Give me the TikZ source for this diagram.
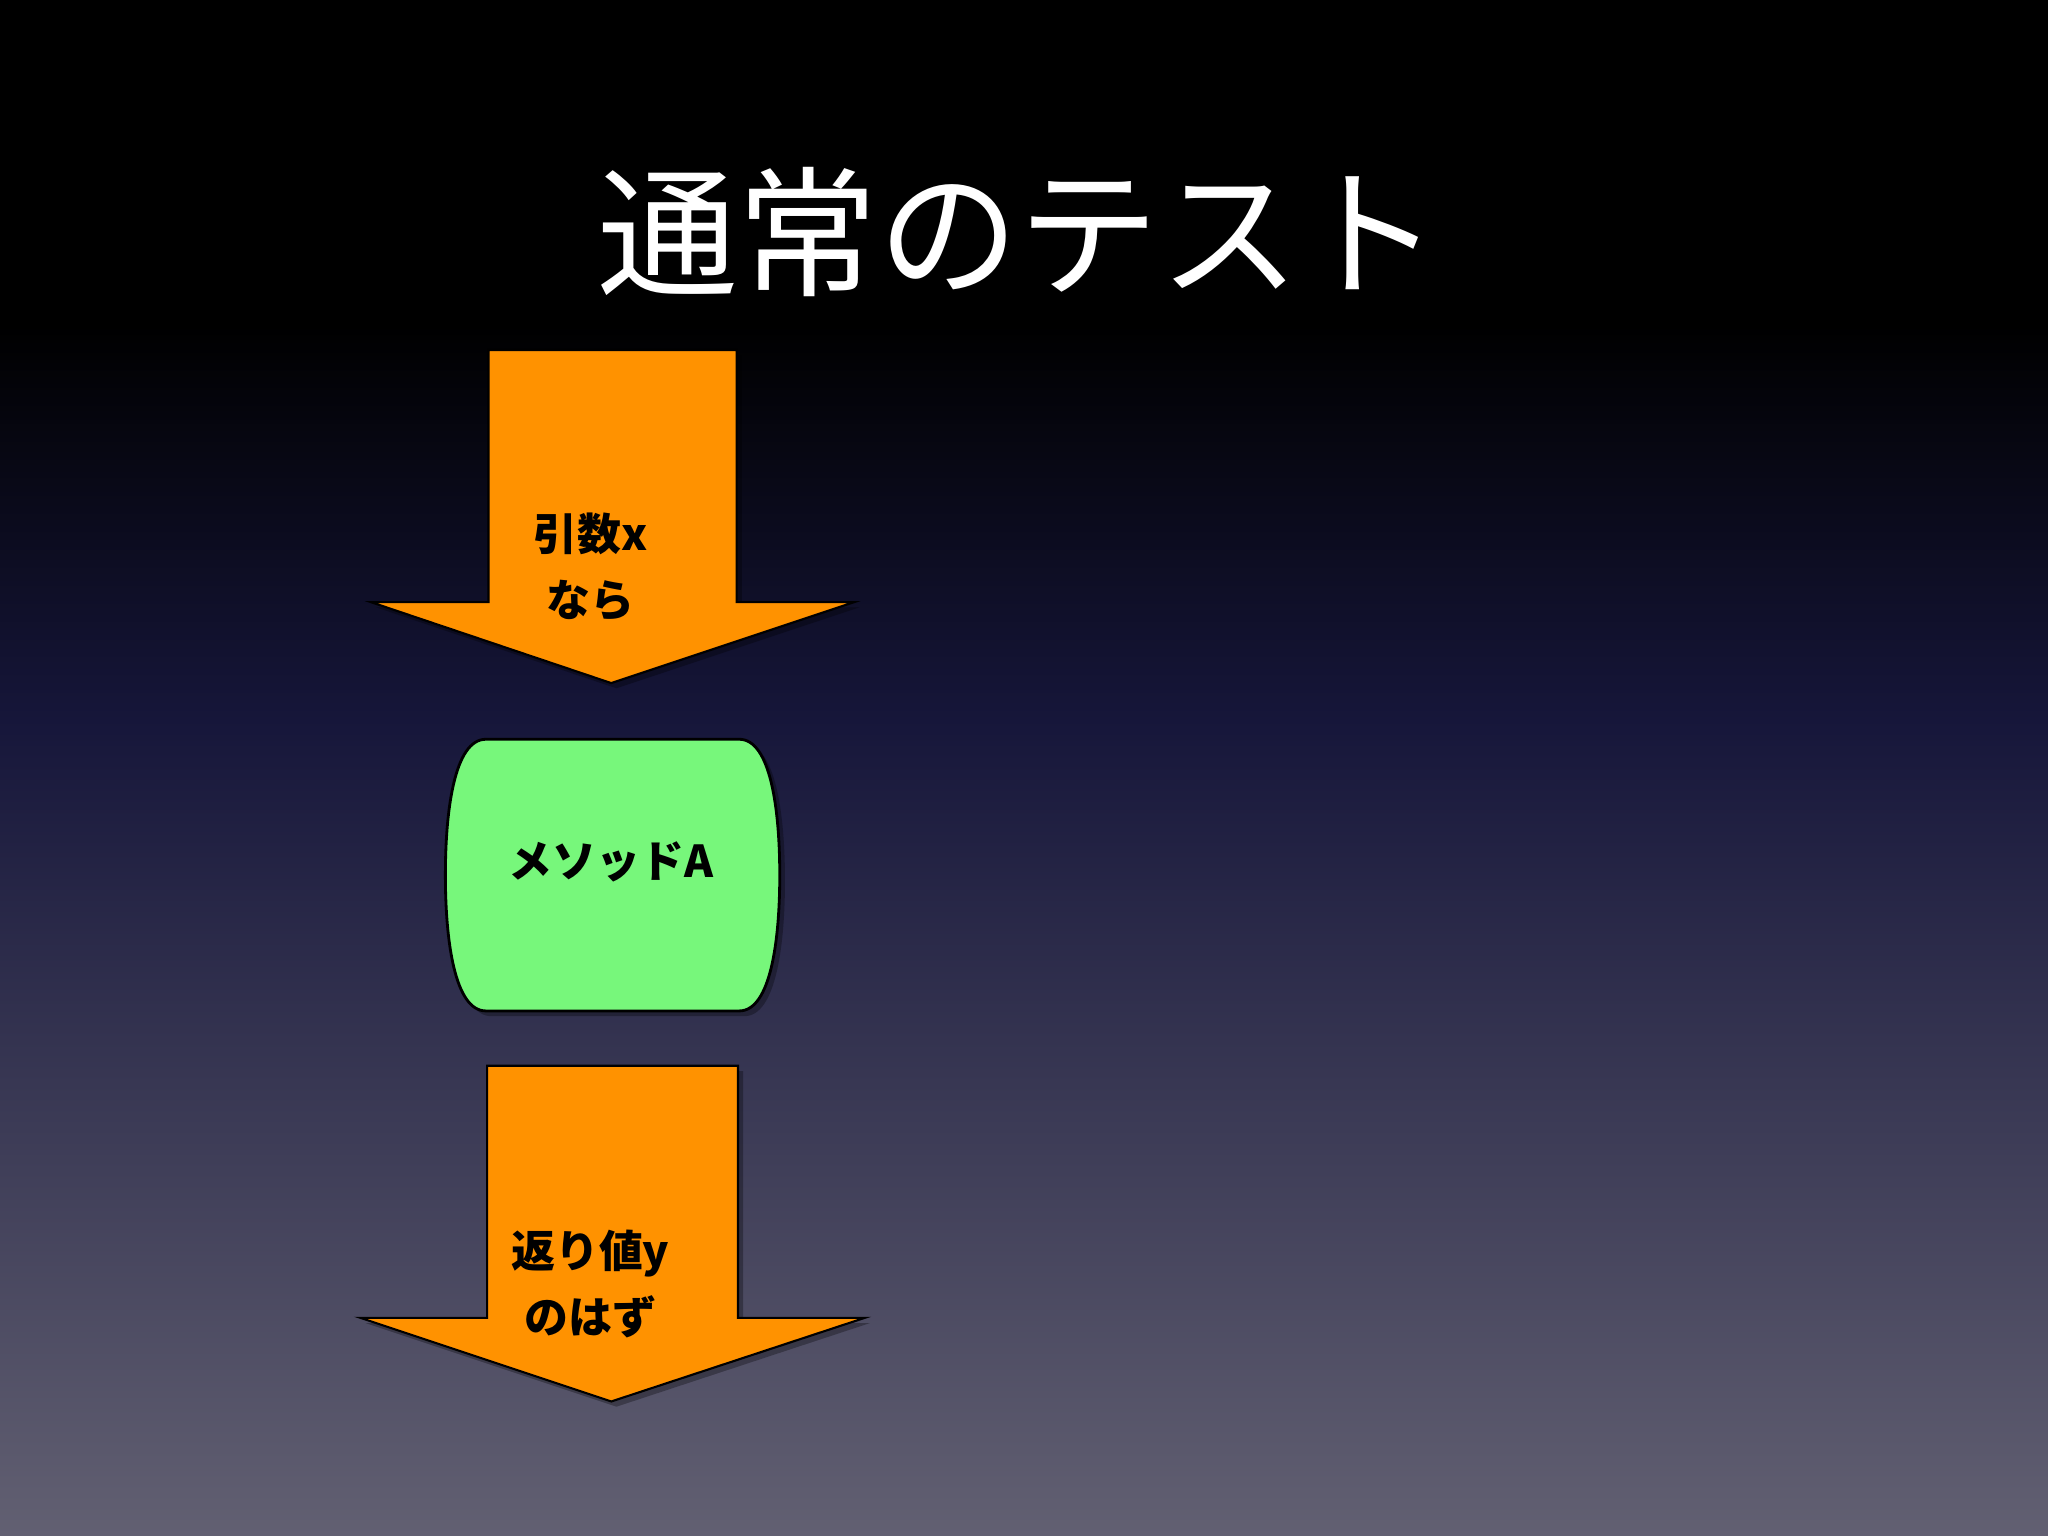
\documentclass[tikz,border=0pt]{standalone}
\usepackage{fontspec}
\setmainfont{Noto Sans CJK JP}
\begin{document}
\begin{tikzpicture}[x=0.013061cm,y=-0.013061cm,
  arr/.style={fill={rgb,255:red,255;green,146;blue,0},draw=black,line width=0.6pt},
  lbl/.style={font=\bfseries\fontsize{12.5}{19}\selectfont,align=center,text=black}]
\fill[black] (0,0) rectangle (1568,250);
\shade[top color=black,bottom color={rgb,255:red,22;green,22;blue,58}] (0,249) rectangle (1568,551);
\shade[top color={rgb,255:red,22;green,22;blue,58},bottom color={rgb,255:red,98;green,96;blue,114}] (0,550) rectangle (1568,1176);
\useasboundingbox (0,0) rectangle (1568,1176);
\node[text=white,font=\fontsize{40}{46}\selectfont] (title) at (780,178) {通常のテスト};
% arrow 1
\fill[black,opacity=0.3] (378,272) -- (568,272) -- (568,465) -- (658,465) -- (472,527) -- (288,465) -- (378,465) -- cycle;
\draw[arr] (374,268) -- (564,268) -- (564,461) -- (654,461) -- (468,523) -- (284,461) -- (374,461) -- cycle;
\node[lbl] (in) at (452,434) {引数x\\なら};
% method
\fill[black,opacity=0.3] (376,570) -- (570,570) .. controls (594,570) and (601,624) .. (601,674) .. controls (601,724) and (594,778) .. (570,778) -- (376,778) .. controls (352,778) and (345,724) .. (345,674) .. controls (345,624) and (352,570) .. (376,570);
\draw[fill={rgb,255:red,119;green,247;blue,123},line width=0.8pt] (372,566) -- (566,566) .. controls (590,566) and (597,620) .. (597,670) .. controls (597,720) and (590,774) .. (566,774) -- (372,774) .. controls (348,774) and (341,720) .. (341,670) .. controls (341,620) and (348,566) .. (372,566);
\node[lbl] (m) at (468,660) {メソッドA};
% arrow 2
\fill[black,opacity=0.3] (377,820) -- (569,820) -- (569,1013) -- (666,1013) -- (472,1077) -- (280,1013) -- (377,1013) -- cycle;
\draw[arr] (373,816) -- (565,816) -- (565,1009) -- (662,1009) -- (468,1073) -- (276,1009) -- (373,1009) -- cycle;
\node[lbl] (out) at (452,983) {返り値y\\のはず};
\end{tikzpicture}
\end{document}
